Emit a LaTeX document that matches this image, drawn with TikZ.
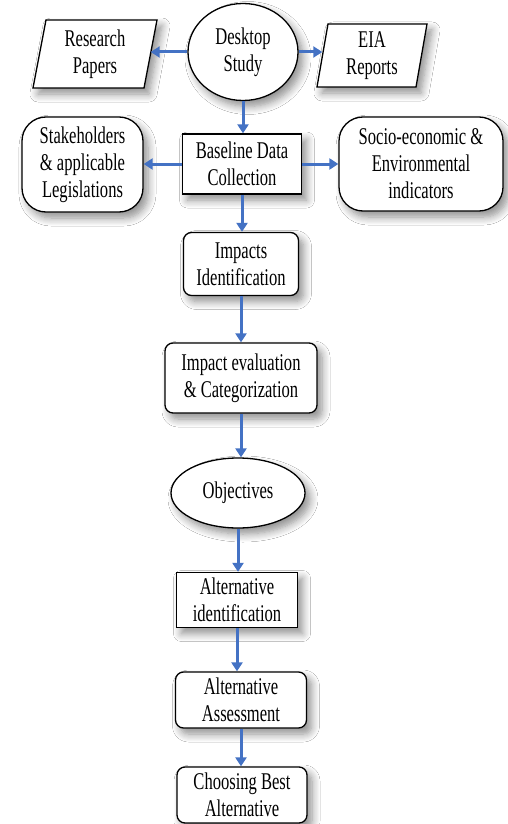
\documentclass[tikz,border=0pt]{standalone}
\usepackage{fontspec}
\setmainfont{Liberation Serif}[FakeStretch=0.69]
\usetikzlibrary{shapes.geometric,arrows.meta,shadows.blur}
\definecolor{arrblue}{RGB}{68,114,196}
\begin{document}
\begin{tikzpicture}[x=1pt,y=-1pt,
  shad/.style={blur shadow={shadow xshift=5pt, shadow yshift=-6pt, shadow blur steps=8,
      shadow blur radius=8pt, shadow opacity=45}},
  txt/.style={align=center, font=\fontsize{24}{27}\selectfont, inner sep=1pt},
  box/.style={txt, draw=black, line width=1.3pt, fill=white, shad},
  paraline/.style={draw=black, line width=1.3pt, fill=white, shad},
  ell/.style={box, ellipse, inner sep=0pt},
  sq/.style={box, rectangle},
  rbig/.style={box, rectangle, rounded corners=24pt},
  rsm/.style={box, rectangle, rounded corners=8pt},
  arr/.style={draw=arrblue, line width=3pt, -{Triangle[width=11pt,length=9pt]}}
]
\useasboundingbox (0,0) rectangle (508,824);
\fill[white] (0,0) rectangle (508,824);

% parallelogram outlines
\path[paraline] (33,88) -- (46,20) -- (157,20) -- (144,88) -- cycle;
\path[paraline] (317,87) -- (328,24) -- (427,24) -- (416,87) -- cycle;

\node[txt, minimum width=111pt, minimum height=68pt] (res) at (95,54) {Research\\Papers};
\node[ell, minimum width=110pt, minimum height=97pt] (desk) at (243,52) {Desktop\\Study};
\node[txt, minimum width=99pt, minimum height=63pt] (eia) at (372,55.5) {EIA\\Reports};

\node[rbig, minimum width=121pt, minimum height=95pt] (stake) at (82.5,164.5) {Stakeholders\\\& applicable\\Legislations};
\node[sq, minimum width=119pt, minimum height=60pt] (basel) at (242,164) {Baseline Data\\Collection};
\node[rbig, minimum width=164pt, minimum height=94pt] (socio) at (421,164) {Socio-economic \&\\Environmental\\indicators};

\node[rsm, minimum width=115pt, minimum height=63pt] (impid) at (241,264) {Impacts\\Identification};
\node[rsm, minimum width=152pt, minimum height=70pt] (impev) at (241,378) {Impact evaluation\\\& Categorization};
\node[ell, minimum width=134pt, minimum height=70pt] (obj) at (238,493) {Objectives};
\node[sq, minimum width=121pt, minimum height=55pt] (altid) at (237,600) {Alternative\\identification};
\node[rsm, minimum width=131pt, minimum height=56pt] (altas) at (241,700) {Alternative\\Assessment};
\node[rsm, minimum width=130pt, minimum height=56pt] (choose) at (242,795) {Choosing Best\\Alternative};

\draw[arr] (desk.west) -- (desk.west -| res.east);
\draw[arr] (desk.east) -- (desk.east -| eia.west);
\draw[arr] (desk.south) -- (desk.south |- basel.north);
\draw[arr] (basel.west) -- (stake.east |- basel.west);
\draw[arr] (basel.east) -- (socio.west |- basel.east);
\draw[arr] (basel.south) -- (basel.south |- impid.north);
\draw[arr] (impid.south) -- (impid.south |- impev.north);
\draw[arr] (impev.south) -- (impev.south |- obj.north);
\draw[arr] (obj.south) -- (obj.south |- altid.north);
\draw[arr] (altid.south) -- (altid.south |- altas.north);
\draw[arr] (altas.south) -- (altas.south |- choose.north);
\end{tikzpicture}
\end{document}
